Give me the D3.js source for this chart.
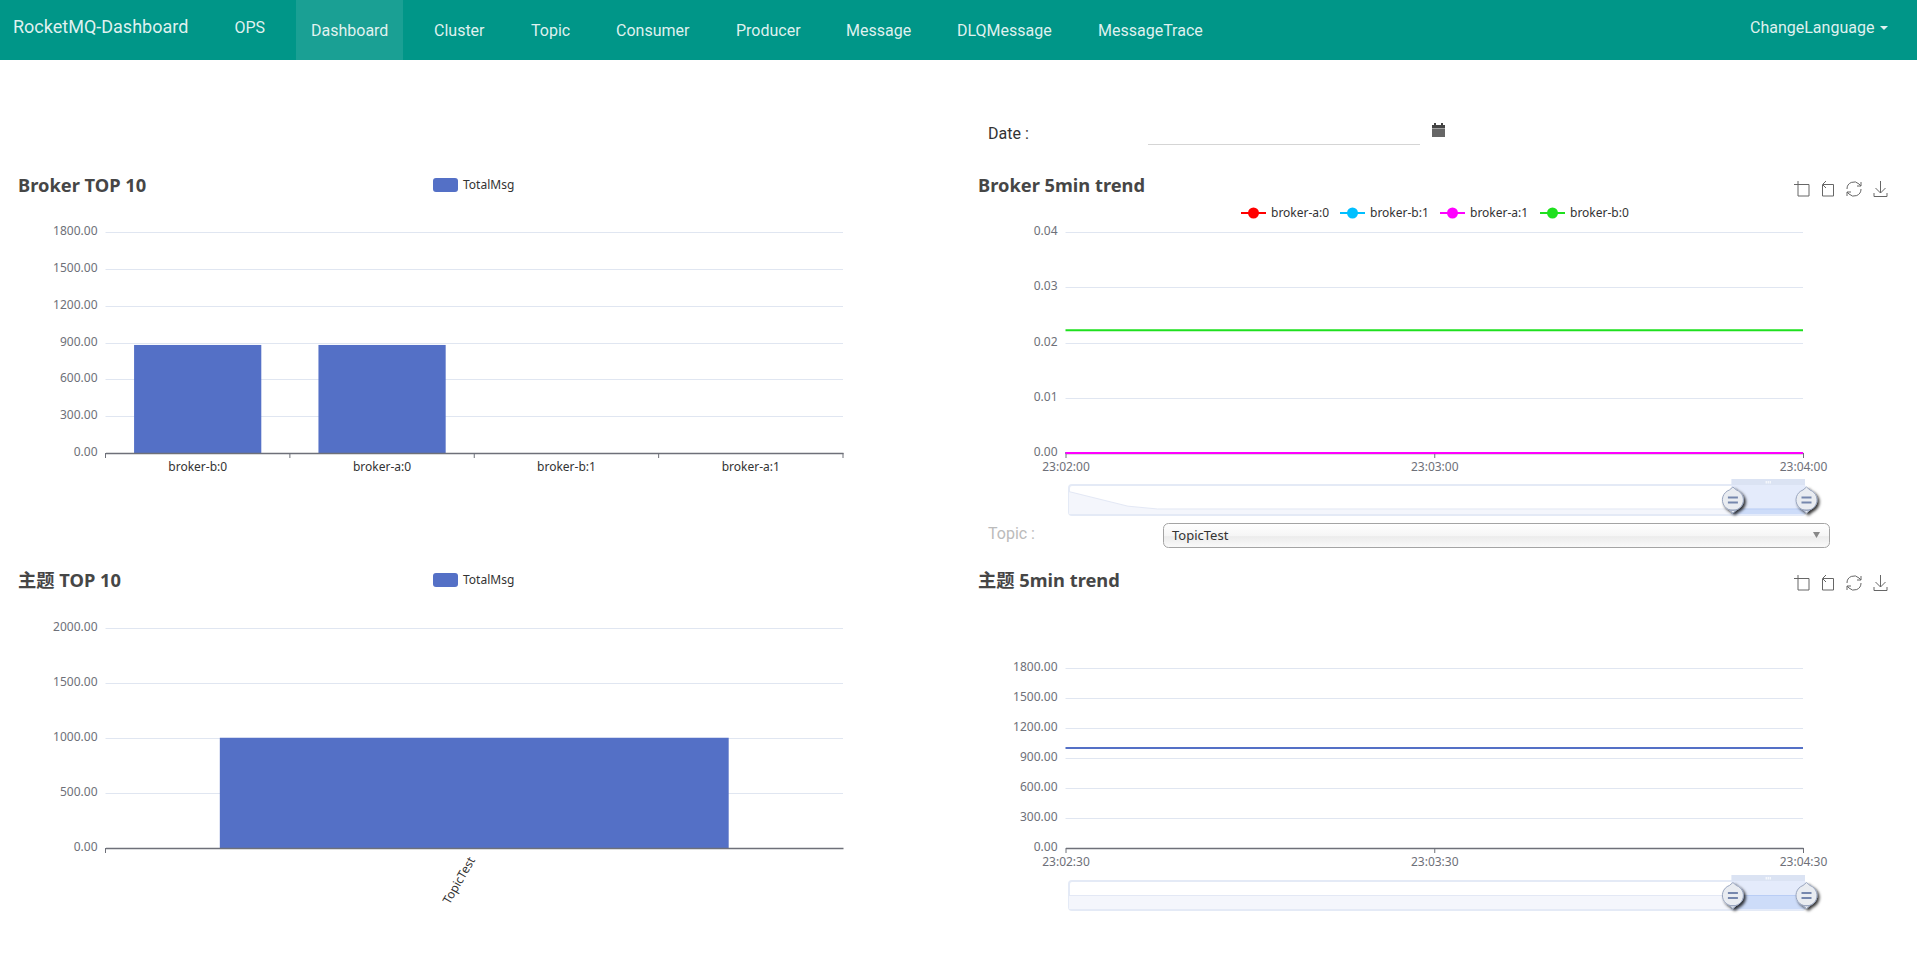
<!DOCTYPE html>
<html lang="en">
<head>
  <meta charset="UTF-8">
  <title>RocketMQ-Dashboard</title>
  <style>
    html, body { margin: 0; padding: 0; background: #fff; overflow: hidden; }
    svg { display: block; }
    text { font-family: "Noto Sans", "Noto Sans CJK SC", sans-serif; font-size: 12px; }
    .nav text { font-family: Roboto, sans-serif; font-size: 16px; fill: rgba(255,255,255,.88); }
    .nav .brand { font-size: 18px; }
    .title { font-family: "Noto Sans", "Noto Sans CJK SC", sans-serif; font-size: 18.3px; font-weight: 700; fill: #464646; }
    .axis-y text, .axis-time text { fill: #6e7079; }
    .axis-y .domain, .axis-y .tick line { display: none; }
    .axis-x text { fill: #333; }
    .axis-x .tick line { display: none; }
    .axis-x .domain, .axis-time .domain { stroke: #6e7079; stroke-width: 1.5px; }
    .axis-time .tick line, .band-tick { stroke: #6e7079; }
    .grid line { stroke: #e0e6f1; stroke-width: 1px; }
    .legend text { fill: #333; }
    .tool path { fill: none; stroke: #666; stroke-width: 1px; }
    .form { font-family: Roboto, sans-serif; font-size: 16px; }
  </style>
</head>
<body>
  <script src="https://d3js.org/d3.v7.min.js"></script>
  <script type="text/javascript">
const navItems = ['Dashboard', 'Cluster', 'Topic', 'Consumer', 'Producer', 'Message', 'DLQMessage', 'MessageTrace']
const brokerCategories = ['broker-b:0', 'broker-a:0', 'broker-b:1', 'broker-a:1']
const brokerTotals = [880, 880, 0, 0]
const brokerTicks = [0, 300, 600, 900, 1200, 1500, 1800]
const topicCategories = ['TopicTest']
const topicTotals = [1000]
const topicTicks = [0, 500, 1000, 1500, 2000]

const brokerNames = ['broker-a:0', 'broker-b:1', 'broker-a:1', 'broker-b:0']
const brokerColors = ['#ff0000', '#00bfff', '#ff00ff', '#1ee01e']
const brokerTimes = ['23:02:00', '23:03:00', '23:04:00']
const brokerA0 = [0, 0, 0]
const brokerB1 = [0, 0, 0]
const brokerA1 = [0, 0, 0]
const brokerB0 = [0.0222, 0.0222, 0.0222]
const brokerTrendTicks = [0, 0.01, 0.02, 0.03, 0.04]

const topicTimes = ['23:02:30', '23:03:30', '23:04:30']
const topicTrend = [1000, 1000, 1000]
const topicTrendTicks = [0, 300, 600, 900, 1200, 1500, 1800]

// overview strips under the trend charts (whole 20 minute range)
const brokerOverviewTimes = ['22:44:00', '22:45:36', '22:46:24', '23:04:00']
const brokerOverview = [0.8, 0.28, 0.18, 0.18]
const topicOverviewTimes = ['22:44:30', '23:04:30']
const topicOverview = [0.5, 0.5]

const parseTime = d3.timeParse('%H:%M:%S')
const fmtTime = d3.timeFormat('%H:%M:%S')
const fmt2 = d => d.toFixed(2)

const svg = d3.select('body').append('svg').attr('width', 1917).attr('height', 954)

const defs = svg.append('defs')
const shadow = defs.append('filter').attr('id', 'handleShadow').attr('x', '-50%').attr('y', '-50%').attr('width', '200%').attr('height', '200%')
shadow.append('feDropShadow').attr('dx', 2).attr('dy', 2).attr('stdDeviation', 1.5).attr('flood-color', '#000').attr('flood-opacity', 0.8)
const selGrad = defs.append('linearGradient').attr('id', 'selGrad').attr('x1', 0).attr('y1', 0).attr('x2', 0).attr('y2', 1)
selGrad.append('stop').attr('offset', '0%').attr('stop-color', '#fff')
selGrad.append('stop').attr('offset', '50%').attr('stop-color', '#f6f6f6')
selGrad.append('stop').attr('offset', '55%').attr('stop-color', '#ececec')
selGrad.append('stop').attr('offset', '100%').attr('stop-color', '#fafafa')

// navbar
const nav = svg.append('g').attr('class', 'nav')
nav.append('rect').attr('width', 1917).attr('height', 60).attr('fill', '#009688')
nav.append('rect').attr('x', 296).attr('width', 107).attr('height', 60).attr('fill', '#1aa094')
nav.append('text').attr('class', 'brand').attr('x', 13).attr('y', 33).text('RocketMQ-Dashboard')
nav.append('text').attr('x', 234.5).attr('y', 32.5).text('OPS')
const navX = [311, 434, 531, 616, 736, 846, 957, 1098]
nav.selectAll('.item').data(navItems).join('text')
  .attr('class', 'item')
  .attr('x', (d, i) => navX[i])
  .attr('y', 36)
  .text(d => d)
nav.append('text').attr('x', 1750).attr('y', 32.5).text('ChangeLanguage')
nav.append('path').attr('d', 'M1880 26h8l-4 4z').attr('fill', 'rgba(255,255,255,.88)')

// date + topic form bits
svg.append('text').attr('class', 'form').attr('x', 988).attr('y', 139).attr('fill', '#333').text('Date :')
svg.append('line').attr('x1', 1148).attr('x2', 1420).attr('y1', 144.5).attr('y2', 144.5).attr('stroke', '#d5d5d5')
const cal = svg.append('g').attr('fill', '#444')
cal.append('rect').attr('x', 1432).attr('y', 125).attr('width', 13).attr('height', 3.5)
cal.append('rect').attr('x', 1434).attr('y', 123).attr('width', 2).attr('height', 3)
cal.append('rect').attr('x', 1441).attr('y', 123).attr('width', 2).attr('height', 3)
cal.append('rect').attr('x', 1432).attr('y', 129).attr('width', 13).attr('height', 8).attr('fill', '#666')

svg.append('text').attr('class', 'form').attr('x', 988).attr('y', 539).attr('fill', '#bbb').text('Topic :')
svg.append('rect').attr('x', 1163.5).attr('y', 523.5).attr('width', 666).attr('height', 24).attr('rx', 5)
  .attr('fill', 'url(#selGrad)').attr('stroke', '#a4a4a4')
svg.append('text').attr('x', 1172).attr('y', 540).attr('fill', '#333').style('font-size', '13px').text('TopicTest')
svg.append('path').attr('d', 'M1813 532h7l-3.5 6z').attr('fill', '#888')

function title (x, y, label) {
  svg.append('text').attr('class', 'title').attr('x', x).attr('y', y).text(label)
}

function yAxis (g, y, ticks, left, right) {
  g.append('g').attr('class', 'grid').selectAll('line').data(ticks.filter(d => d > 0)).join('line')
    .attr('x1', left).attr('x2', right)
    .attr('y1', d => Math.round(y(d)) + 0.5).attr('y2', d => Math.round(y(d)) + 0.5)
  g.append('g').attr('class', 'axis-y')
    .attr('transform', `translate(${left},0)`)
    .call(d3.axisLeft(y).tickValues(ticks).tickFormat(fmt2).tickSize(0).tickPadding(8))
    .call(s => s.selectAll('text').attr('dy', '0.22em'))
}

function barChart ({cats, values, ticks, top, bottom, legendY, tickEnd, rotate}) {
  const left = 105.5
  const right = 843
  const g = svg.append('g')
  const x = d3.scaleBand().domain(cats).range([left, right]).paddingInner(0.31).paddingOuter(0.155)
  const y = d3.scaleLinear().domain([0, d3.max(ticks)]).range([bottom, top])
  yAxis(g, y, ticks, left, right)

  g.selectAll('.bar').data(values).join('rect')
    .attr('class', 'bar')
    .attr('x', (d, i) => x(cats[i]))
    .attr('y', d => y(d))
    .attr('width', x.bandwidth())
    .attr('height', d => y(0) - y(d))
    .attr('fill', '#5470c6')

  const ax = g.append('g').attr('class', 'axis-x')
    .attr('transform', `translate(0,${bottom})`)
    .call(d3.axisBottom(x).tickSize(0).tickSizeOuter(0).tickPadding(9))
  if (rotate) {
    ax.selectAll('text')
      .attr('text-anchor', 'end')
      .attr('transform', `translate(-4,9) rotate(${rotate})`)
      .attr('x', 0).attr('y', 0).attr('dy', '0.5em')
  }
  // ticks sit on band edges, not centres
  const edges = d3.range(tickEnd).map(i => left + i * x.step())
  g.selectAll('.band-tick').data(edges).join('line')
    .attr('class', 'band-tick')
    .attr('x1', d => d).attr('x2', d => d)
    .attr('y1', bottom).attr('y2', bottom + 5)

  const lg = g.append('g').attr('class', 'legend')
  lg.append('rect').attr('x', 433).attr('y', legendY).attr('width', 25).attr('height', 14).attr('rx', 3).attr('fill', '#5470c6')
  lg.append('text').attr('x', 463).attr('y', legendY + 11).text('TotalMsg')
}

function toolbox (y) {
  const t = svg.append('g').attr('class', 'tool').attr('transform', `translate(0,${y})`)
  t.append('path').attr('d', 'M1794 3.5h15v11.5h-11v-15')
  t.append('path').attr('d', 'M1822.5 4v11h11v-11.5h-10.5M1826 0l-3.5 3.5 3.5 3.5')
  t.append('path').attr('d', 'M1847 8a7 7 0 0 1 12-5l2 2M1861 8a7 7 0 0 1-12 5l-2-2M1861 1v4h-4M1847 15v-4h4')
  t.append('path').attr('d', 'M1880.5 0v12M1875.5 7l5 5 5-5M1874 12v3.5h13v-3.5')
}

function overview ({times, values, top, bottom, start, end, selStart}) {
  const left = 1069
  const right = 1805
  const g = svg.append('g')
  const ox = d3.scaleTime().domain([parseTime(start), parseTime(end)]).range([left, right])
  const oy = d3.scaleLinear().domain([0, 1]).range([bottom - 1, top + 1])
  const pts = times.map((t, i) => [parseTime(t), values[i]])
  const area = d3.area().x(d => ox(d[0])).y0(bottom - 1).y1(d => oy(d[1]))
  const line = d3.line().x(d => ox(d[0])).y(d => oy(d[1]))
  const selX = ox(parseTime(selStart))
  const clipId = `sel${top}`
  defs.append('clipPath').attr('id', clipId).append('rect').attr('x', selX).attr('y', top).attr('width', right - selX).attr('height', bottom - top)

  g.append('rect').attr('x', left).attr('y', top).attr('width', right - left).attr('height', bottom - top).attr('rx', 3)
    .attr('fill', '#fff').attr('stroke', '#e4eaf6').attr('stroke-width', 2)
  g.append('path').datum(pts).attr('d', area).attr('fill', '#f4f6fc')
  g.append('path').datum(pts).attr('d', line).attr('fill', 'none').attr('stroke', '#e3e8f5')
  g.append('rect').attr('x', selX).attr('y', top).attr('width', right - selX).attr('height', bottom - top).attr('fill', '#e4ebfb')
  g.append('path').datum(pts).attr('d', area).attr('fill', '#cddcf9').attr('clip-path', `url(#${clipId})`)
  g.append('path').datum(pts).attr('d', line).attr('fill', 'none').attr('stroke', '#b9cdf5').attr('clip-path', `url(#${clipId})`)
  g.append('rect').attr('x', selX).attr('y', top - 6).attr('width', right - selX).attr('height', 6).attr('fill', '#dbe3f3')
  const mid = (selX + right) / 2
  g.selectAll('.grip').data([-2, 0, 2]).join('rect').attr('class', 'grip')
    .attr('x', d => mid + d - 0.5).attr('y', top - 4).attr('width', 1).attr('height', 2.5).attr('fill', '#fff')

  ;[selX, right].forEach(cx => {
    const cy = (top + bottom) / 2
    const h = g.append('g').attr('transform', `translate(${cx + 1.5},${cy})`)
    h.append('path').attr('d', 'M0 -13L3.5 -10A10.5 10.5 0 1 1 -3.5 -10ZM0 13L3.5 10H-3.5Z')
      .attr('fill', '#e9ecf1').attr('stroke', '#9aa6bf').attr('stroke-width', 1).attr('filter', 'url(#handleShadow)')
    h.append('path').attr('d', 'M-5 -2.5h10M-5 2.5h10').attr('stroke', '#7687ad').attr('stroke-width', 1.8).attr('fill', 'none')
  })
}

function trendChart ({times, series, colors, ticks, top, bottom}) {
  const left = 1065.5
  const right = 1803
  const g = svg.append('g')
  const x = d3.scaleTime().domain([parseTime(times[0]), parseTime(times[times.length - 1])]).range([left, right])
  const y = d3.scaleLinear().domain([0, d3.max(ticks)]).range([bottom, top])
  yAxis(g, y, ticks, left, right)
  g.append('g').attr('class', 'axis-time')
    .attr('transform', `translate(0,${bottom})`)
    .call(d3.axisBottom(x).tickValues(times.map(parseTime)).tickFormat(fmtTime).tickSize(5).tickSizeOuter(0).tickPadding(4))
  const line = d3.line().x((d, i) => x(parseTime(times[i]))).y(d => y(d))
  g.selectAll('.series').data(series).join('path')
    .attr('class', 'series')
    .attr('d', line)
    .attr('fill', 'none')
    .attr('stroke', (d, i) => colors[i])
    .attr('stroke-width', 2)
}

title(18, 192, 'Broker TOP 10')
title(978, 192, 'Broker 5min trend')
title(18, 587, '主题 TOP 10')
title(978, 587, '主题 5min trend')
toolbox(181)
toolbox(575)

barChart({cats: brokerCategories, values: brokerTotals, ticks: brokerTicks, top: 232, bottom: 453, legendY: 178, tickEnd: brokerCategories.length + 1})
barChart({cats: topicCategories, values: topicTotals, ticks: topicTicks, top: 627.5, bottom: 848, legendY: 573, tickEnd: 1, rotate: -60})

trendChart({times: brokerTimes, series: [brokerA0, brokerB1, brokerA1, brokerB0], colors: brokerColors, ticks: brokerTrendTicks, top: 232, bottom: 453})
trendChart({times: topicTimes, series: [topicTrend], colors: ['#5470c6'], ticks: topicTrendTicks, top: 668, bottom: 848})

overview({times: brokerOverviewTimes, values: brokerOverview, top: 485, bottom: 515, start: '22:44:00', end: '23:04:00', selStart: '23:02:00'})
overview({times: topicOverviewTimes, values: topicOverview, top: 881, bottom: 910, start: '22:44:30', end: '23:04:30', selStart: '23:02:30'})

// trend legend
const legendX = [1241, 1340, 1440, 1540]
const trendLegend = svg.append('g').attr('class', 'legend')
  .selectAll('g').data(brokerNames).join('g')
  .attr('transform', (d, i) => `translate(${legendX[i]},213)`)
trendLegend.append('line').attr('x2', 25).attr('stroke', (d, i) => brokerColors[i]).attr('stroke-width', 2)
trendLegend.append('circle').attr('cx', 12.5).attr('r', 5.5).attr('fill', (d, i) => brokerColors[i])
trendLegend.append('text').attr('x', 30).attr('y', 4).text(d => d)
  </script>
</body>
</html>
